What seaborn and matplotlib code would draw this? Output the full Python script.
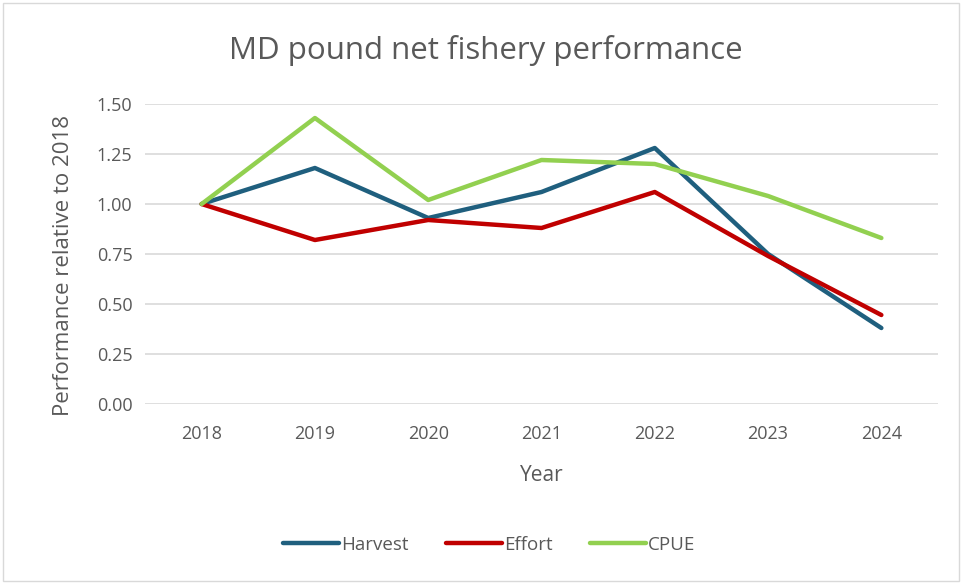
import pandas as pd
import seaborn as sns
import matplotlib.pyplot as plt
from matplotlib.patches import Rectangle
from matplotlib.lines import Line2D

# valores
anos = [2018, 2019, 2020, 2021, 2022, 2023, 2024]
harvest = [1.00, 1.18, 0.93, 1.06, 1.28, 0.75, 0.38]
effort = [1.00, 0.82, 0.92, 0.88, 1.06, 0.74, 0.445]
cpue = [1.00, 1.43, 1.02, 1.22, 1.20, 1.04, 0.83]
series = ["Harvest", "Effort", "CPUE"]
cores = ["#1F5F7E", "#C00000", "#92D050"]
y_ticks = [0.00, 0.25, 0.50, 0.75, 1.00, 1.25, 1.50]

df = pd.DataFrame({
    "Year": anos * 3,
    "valor": harvest + effort + cpue,
    "serie": [s for s in series for _ in anos],
})

sns.set_theme(style="white")
plt.rcParams["font.family"] = ["Open Sans", "DejaVu Sans"]
cinza = "#595959"

fig = plt.figure(figsize=(9.64, 5.83), dpi=100)
ax = fig.add_axes([145 / 964, 1 - 404 / 583, (938 - 145) / 964, (404 - 104) / 583])

sns.lineplot(data=df, x="Year", y="valor", hue="serie", hue_order=series,
             palette=cores, linewidth=3.2, ax=ax, solid_capstyle="round",
             legend=False, zorder=3)

ax.set_xlim(2017.5, 2024.5)
ax.set_ylim(0, 1.5)
ax.set_yticks(y_ticks)
ax.set_yticklabels([f"{v:.2f}" for v in y_ticks], color=cinza, fontsize=13)
ax.set_xticks(anos)
ax.set_xticklabels([str(a) for a in anos], color=cinza, fontsize=13)
ax.tick_params(axis="y", length=0, pad=9)
ax.tick_params(axis="x", length=0, pad=15)
ax.yaxis.grid(True, color="#D9D9D9", linewidth=1.2, zorder=0)
ax.set_axisbelow(True)
for s in ax.spines.values():
    s.set_visible(False)

ax.set_xlabel("Year", color=cinza, fontsize=15, labelpad=16)
ax.set_ylabel("Performance relative to 2018", color=cinza, fontsize=16)
ax.yaxis.set_label_coords(-0.09, 0.46)
fig.text(486 / 964, 1 - 50 / 583, "MD pound net fishery performance",
         ha="center", va="center", color=cinza, fontsize=22.5)

# legenda
handles = [Line2D([0], [0], color=c, linewidth=3.2, solid_capstyle="round") for c in cores]
fig.legend(handles, series, loc="center", bbox_to_anchor=(489 / 964, 1 - 545 / 583),
           ncol=3, frameon=False, fontsize=13.5, labelcolor=cinza,
           handlelength=3.0, handletextpad=0.1, columnspacing=2.0)

# moldura do gráfico
fig.patches.append(Rectangle((0.003, 0.003), 0.992, 0.992, transform=fig.transFigure,
                             fill=False, edgecolor="#D9D9D9", linewidth=1))

plt.savefig("out.png", dpi=100)
